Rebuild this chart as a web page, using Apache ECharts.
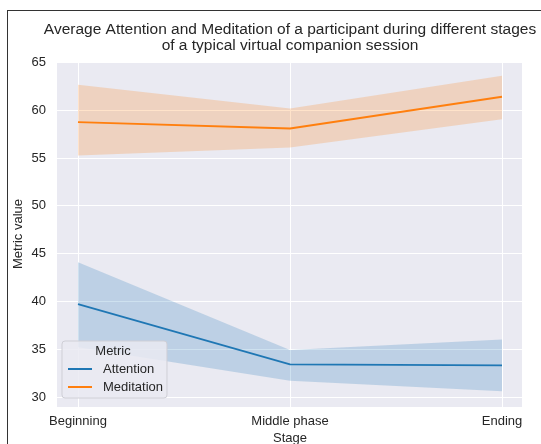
<!DOCTYPE html>
<html>
<head>
<meta charset="utf-8">
<script src="https://cdn.jsdelivr.net/npm/echarts@6/dist/echarts.min.js"></script>
<style>
  html, body { margin: 0; padding: 0; background: #ffffff; }
  #chart { width: 541px; height: 444px; }
</style>
</head>
<body>
<div id="chart"></div>
<script>
const stages = ['Beginning', 'Middle phase', 'Ending'];
const attentionMean = [39.7, 33.4, 33.3];
const attentionLow = [35.2, 31.7, 30.6];
const attentionHigh = [44.1, 34.9, 36.0];
const meditationMean = [58.75, 58.08, 61.4];
const meditationLow = [55.25, 56.1, 59.06];
const meditationHigh = [62.65, 60.17, 63.6];

const blue = '#1f77b4';
const orange = '#ff7f0e';
const textColor = '#262626';
const font = 'Liberation Sans, Arial, sans-serif';

let chart = echarts.init(document.getElementById('chart'));

// band = lower (invisible) + (upper - lower) stacked with area fill
function band(name, low, high, color) {
  return [{
    type: 'line', xAxisIndex: 1, yAxisIndex: 1, stack: name,
    data: low, symbol: 'none', silent: true,
    lineStyle: {opacity: 0}
  }, {
    type: 'line', xAxisIndex: 1, yAxisIndex: 1, stack: name,
    data: high.map((v, i) => +(v - low[i]).toFixed(3)),
    symbol: 'none', silent: true,
    lineStyle: {opacity: 0},
    areaStyle: {color: color, opacity: 0.22}
  }];
}

const yRange = {min: 28.95, max: 65.14};

chart.setOption({
  animation: false,
  textStyle: {fontFamily: font},
  title: {
    text: 'Average Attention and Meditation of a participant during different stages\nof a typical virtual companion session',
    left: 285,
    top: 17,
    textAlign: 'center',
    textStyle: {fontSize: 15.5, fontWeight: 'normal', color: textColor, lineHeight: 16}
  },
  grid: [
    {left: 57, right: 19, top: 61, bottom: 37, show: true, backgroundColor: '#eaeaf2',
      borderWidth: 0, outerBoundsMode: 'none', containLabel: false},
    {left: 78, right: 39, top: 61, bottom: 37, outerBoundsMode: 'none', containLabel: false}
  ],
  xAxis: [{
    gridIndex: 0, type: 'category', data: stages, show: false
  }, {
    gridIndex: 1, type: 'category', data: stages, boundaryGap: false,
    axisLine: {show: false}, axisTick: {show: false},
    axisLabel: {color: textColor, fontSize: 13, margin: 7.5},
    splitLine: {show: true, lineStyle: {color: '#ffffff', width: 1}},
    name: 'Stage', nameLocation: 'middle', nameGap: 23,
    nameTextStyle: {color: textColor, fontSize: 13}
  }],
  yAxis: [{
    gridIndex: 0, type: 'value', min: yRange.min, max: yRange.max, splitNumber: 7,
    axisLine: {show: false}, axisTick: {show: false},
    axisLabel: {
      color: textColor, fontSize: 13, margin: 11,
      formatter: v => (Math.abs(v % 5) < 1e-6 ? String(v) : '')
    },
    splitLine: {lineStyle: {color: '#ffffff', width: 1}},
    name: 'Metric value', nameLocation: 'middle', nameGap: 32, nameMoveOverlap: false,
    nameTextStyle: {color: textColor, fontSize: 13}
  }, {
    gridIndex: 1, type: 'value', min: yRange.min, max: yRange.max, show: false
  }],
  legend: {
    data: ['Attention', 'Meditation'],
    orient: 'vertical',
    left: 62, top: 341,
    padding: [21, 4, 4, 6],
    itemGap: 4,
    itemWidth: 24, itemHeight: 2,
    icon: 'rect',
    backgroundColor: 'rgba(234,234,242,0.85)',
    borderColor: '#cfcfd6', borderWidth: 1, borderRadius: 3,
    textStyle: {color: textColor, fontSize: 13, lineHeight: 14, padding: [0, 0, 0, 6]}
  },
  graphic: [
    {type: 'text', x: 113, y: 351, z: 100,
      style: {text: 'Metric', fill: textColor, font: '13px ' + font, align: 'center', verticalAlign: 'middle'}},
    {type: 'line', shape: {x1: 7, y1: 10.5, x2: 541, y2: 10.5}, style: {stroke: '#333333', lineWidth: 1}},
    {type: 'line', shape: {x1: 7.5, y1: 10, x2: 7.5, y2: 444}, style: {stroke: '#333333', lineWidth: 1}}
  ],
  series: [
    ...band('att', attentionLow, attentionHigh, blue),
    ...band('med', meditationLow, meditationHigh, orange),
    {name: 'Attention', type: 'line', xAxisIndex: 1, yAxisIndex: 1, data: attentionMean,
      symbol: 'none', lineStyle: {color: blue, width: 1.8}, itemStyle: {color: blue}},
    {name: 'Meditation', type: 'line', xAxisIndex: 1, yAxisIndex: 1, data: meditationMean,
      symbol: 'none', lineStyle: {color: orange, width: 1.8}, itemStyle: {color: orange}}
  ]
});
</script>
</body>
</html>
